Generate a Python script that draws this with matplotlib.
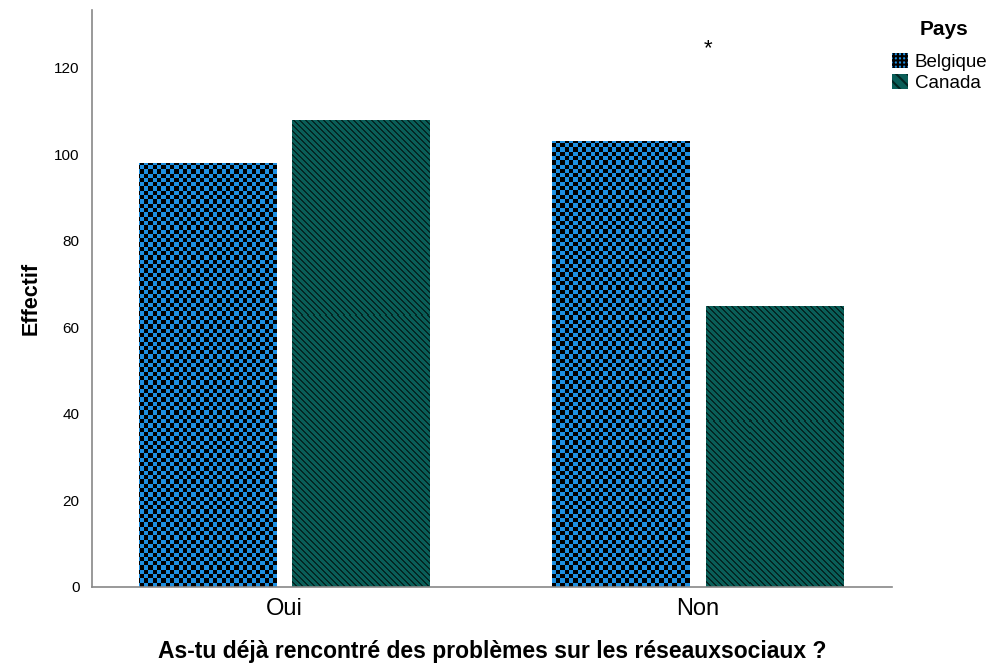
import numpy as np
from matplotlib import pyplot as plt
from matplotlib.patches import Patch
from matplotlib.colors import ListedColormap

categories = ["Oui", "Non"]
belgique = [98, 103]
canada = [108, 65]
series_names = ["Belgique", "Canada"]

blue = "#1e90e2"
teal = "#0a5e58"
dark = "#032623"

plt.rcParams["font.family"] = ["Liberation Sans", "DejaVu Sans"]
plt.rcParams["hatch.linewidth"] = 1.5

fig = plt.figure(figsize=(9.96, 6.64), dpi=100)
ax = fig.add_axes([0.0924, 0.116, 0.8032, 0.869])

x = np.arange(len(categories))
width = 0.333
off = 0.185
xlim = (-0.464, 1.469)
ylim = (0, 133.4)

bars_b = ax.bar(x - off, belgique, width, color=blue, linewidth=0)
bars_c = ax.bar(x + off, canada, width, color=teal, linewidth=0)

# fill patterns drawn as images clipped to the bars
nx, ny = 186, 134
checker = (np.add.outer(np.arange(ny), np.arange(nx)) % 2).astype(float)
px, py = 800, 577
rows, cols = np.meshgrid(np.arange(py), np.arange(px), indexing="ij")
stripes = (((rows + cols) % 6) < 2).astype(float)

for b in bars_b:
    im = ax.imshow(checker, cmap=ListedColormap([blue, "black"]),
                   extent=(xlim[0], xlim[1], ylim[0], ylim[1]),
                   aspect="auto", interpolation="nearest", zorder=2, origin="lower")
    im.set_clip_path(b)
for b in bars_c:
    im = ax.imshow(stripes, cmap=ListedColormap([teal, dark]),
                   extent=(xlim[0], xlim[1], ylim[0], ylim[1]),
                   aspect="auto", interpolation="nearest", zorder=2, origin="lower")
    im.set_clip_path(b)

ax.set_xlim(*xlim)
ax.set_ylim(*ylim)
ax.set_xticks(x)
ax.set_xticklabels(categories, fontsize=17)
ax.set_yticks(range(0, 121, 20))
ax.tick_params(axis="y", length=0, labelsize=11, pad=9)
ax.tick_params(axis="x", length=0, pad=8)
for s in ["top", "right"]:
    ax.spines[s].set_visible(False)
for s in ["left", "bottom"]:
    ax.spines[s].set_color("#888888")
    ax.spines[s].set_linewidth(1.2)

ax.set_ylabel("Effectif", fontsize=15.5, fontweight="bold", labelpad=9)
ax.set_xlabel("As-tu déjà rencontré des problèmes sur les réseauxsociaux ?",
              fontsize=16.5, fontweight="bold", labelpad=14)

ax.text(1.024, 124.5, "*", fontsize=16, ha="center", va="center")

# legend
fig.text(0.948, 0.955, "Pays", fontsize=15, fontweight="bold", ha="center", va="center")
handles = [Patch(facecolor=blue, edgecolor="black", hatch="++++", linewidth=0),
           Patch(facecolor=teal, edgecolor=dark, hatch="\\\\\\", linewidth=0)]
leg = fig.legend(handles, series_names, loc="upper left",
                 bbox_to_anchor=(0.896, 0.92), frameon=False, fontsize=13.5,
                 handlelength=0.85, handleheight=0.85, handletextpad=0.35,
                 labelspacing=0.15, borderaxespad=0, borderpad=0)

fig.savefig("out.png", dpi=100)
